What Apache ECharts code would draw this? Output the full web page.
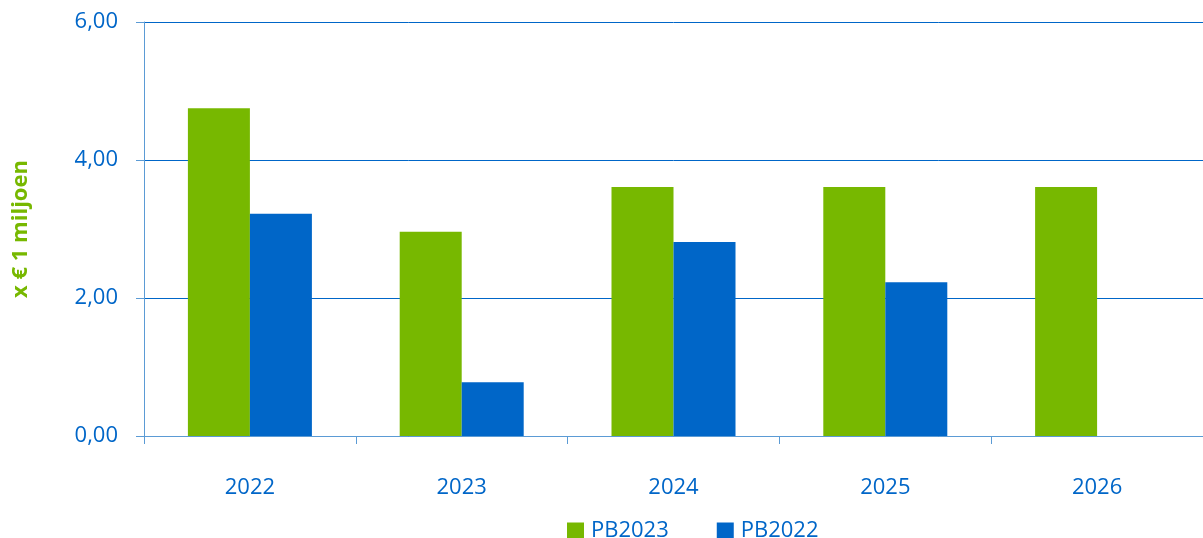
<!DOCTYPE html>
<html>
<head>
    <meta charset="utf-8">
    <title>ECharts</title>
    <script src="https://cdn.jsdelivr.net/npm/echarts@6/dist/echarts.min.js"></script>
</head>
<body style="margin:0">
    <div id="main" style="width: 1203px;height:538px;"></div>
    <script type="text/javascript">
        var years = ['2022', '2023', '2024', '2025', '2026'];
        var pb2023 = [4.75, 2.96, 3.61, 3.61, 3.61];
        var pb2022 = [3.22, 0.78, 2.81, 2.23, null];
        var seriesNames = ['PB2023', 'PB2022'];

        var blue = '#0066c8';
        var green = '#77b800';
        var font = '"Open Sans", "Noto Sans", sans-serif';

        var myChart = echarts.init(document.getElementById('main'));

        var option = {
            animation: false,
            textStyle: { fontFamily: font },
            grid: {
                left: 144,
                right: 0,
                top: 22,
                bottom: 102,
                containLabel: false,
                outerBoundsMode: 'none'
            },
            legend: {
                data: seriesNames,
                top: 515,
                left: 562,
                itemWidth: 17,
                itemHeight: 17,
                itemGap: 48,
                icon: 'rect',
                textStyle: { color: blue, fontSize: 22, fontFamily: font, padding: [0, 0, 0, 2] }
            },
            xAxis: {
                type: 'category',
                data: years,
                axisLine: { lineStyle: { color: '#5b9bd5', width: 1 } },
                axisTick: { show: true, length: 8, lineStyle: { color: '#5b9bd5' } },
                axisLabel: { color: blue, fontSize: 22, margin: 41 }
            },
            yAxis: {
                type: 'value',
                min: 0,
                max: 6,
                interval: 2,
                name: 'x € 1 miljoen',
                nameLocation: 'middle',
                nameRotate: 90,
                nameGap: 112,
                nameTextStyle: { color: green, fontSize: 22, fontWeight: 'bold', fontFamily: font },
                axisLine: { show: true, lineStyle: { color: '#5b9bd5', width: 1 } },
                axisTick: { show: true, length: 8, lineStyle: { color: '#5b9bd5' } },
                axisLabel: {
                    color: blue,
                    fontSize: 22,
                    margin: 26,
                    formatter: function (v) { return v.toFixed(2).replace('.', ','); }
                },
                splitLine: { lineStyle: { color: blue, width: 1 } }
            },
            series: [
                {
                    name: seriesNames[0],
                    type: 'bar',
                    data: pb2023,
                    barWidth: 62,
                    barGap: '0%',
                    itemStyle: { color: green }
                },
                {
                    name: seriesNames[1],
                    type: 'bar',
                    data: pb2022,
                    barWidth: 62,
                    itemStyle: { color: blue }
                }
            ]
        };

        myChart.setOption(option);
    </script>
</body>
</html>
